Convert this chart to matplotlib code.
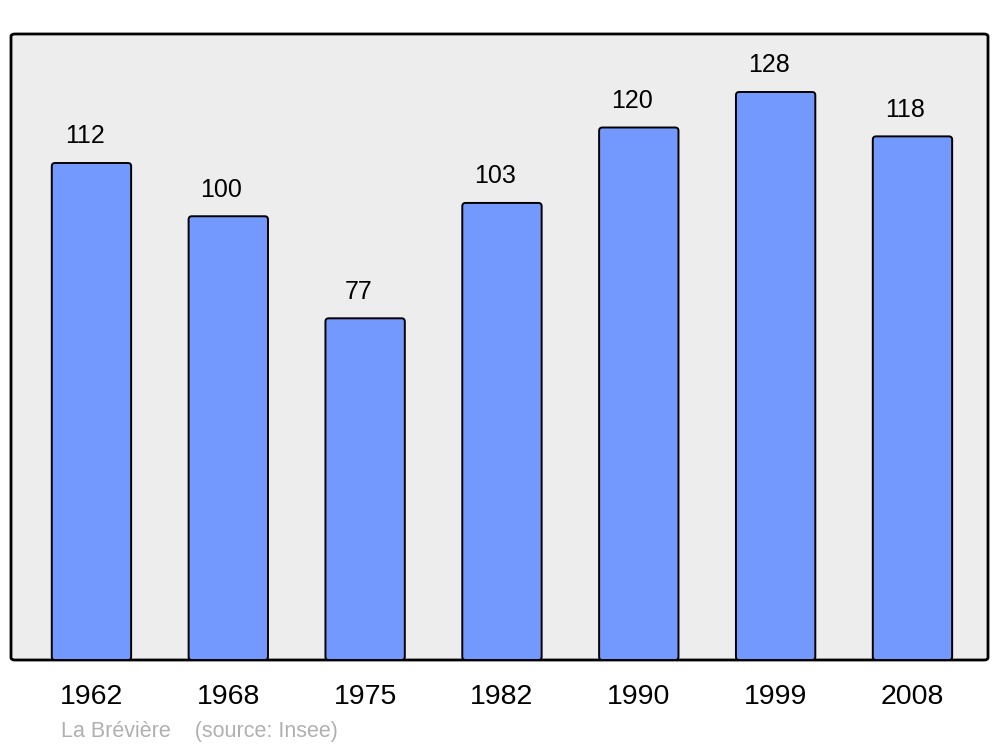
import matplotlib
matplotlib.use("Agg")
import matplotlib.pyplot as plt
from matplotlib.patches import FancyBboxPatch

years = ["1962", "1968", "1975", "1982", "1990", "1999", "2008"]
population = [112, 100, 77, 103, 120, 128, 118]
footer = "La Brévière    (source: Insee)"

plt.rcParams['font.family'] = ['Liberation Sans', 'DejaVu Sans']

fig = plt.figure(figsize=(10, 7.47), dpi=100)
ax = fig.add_axes([11/1000, 1 - 660/747, 977/1000, 626/747])
ax.set_facecolor('none')
bg = FancyBboxPatch((0, 0), 1, 1, boxstyle="round,pad=0,rounding_size=0.004",
                    transform=ax.transAxes, facecolor='#ededed', edgecolor='black',
                    linewidth=2, clip_on=False, zorder=0)
ax.add_patch(bg)
for s in ax.spines.values():
    s.set_visible(False)

xmin, xmax = -0.588, 6.552
ymin, ymax = 0, 141.07
ax.set_xlim(xmin, xmax)
ax.set_ylim(ymin, ymax)

x = list(range(len(years)))
bars = ax.bar(x, population, width=0.58, color='#7399ff', edgecolor='black',
              linewidth=1.3, zorder=2)
# replace bars with rounded-corner patches of identical geometry
px_w = 977 / (xmax - xmin)
px_h = 626 / (ymax - ymin)
aspect = px_w / px_h
for b in bars:
    b.set_visible(False)
    rp = FancyBboxPatch((b.get_x(), b.get_y()), b.get_width(), b.get_height(),
                        boxstyle="round,pad=0,rounding_size=0.024",
                        mutation_aspect=aspect,
                        facecolor='#7399ff', edgecolor='black', linewidth=1.4, zorder=2)
    ax.add_patch(rp)
for xi, v in zip(x, population):
    ax.annotate(str(v), (xi, v), xytext=(-5, 10.5), textcoords='offset points',
                ha='center', va='bottom', fontsize=18)

ax.set_yticks([])
ax.set_xticks(x)
ax.set_xticklabels(years, fontsize=20.5)
ax.tick_params(axis='x', length=0, pad=17)

fig.text(61/1000, 1 - 731/747, footer, fontsize=15.5, color='#b0b0b0', va='center', ha='left')

fig.savefig("out.png", dpi=100)
